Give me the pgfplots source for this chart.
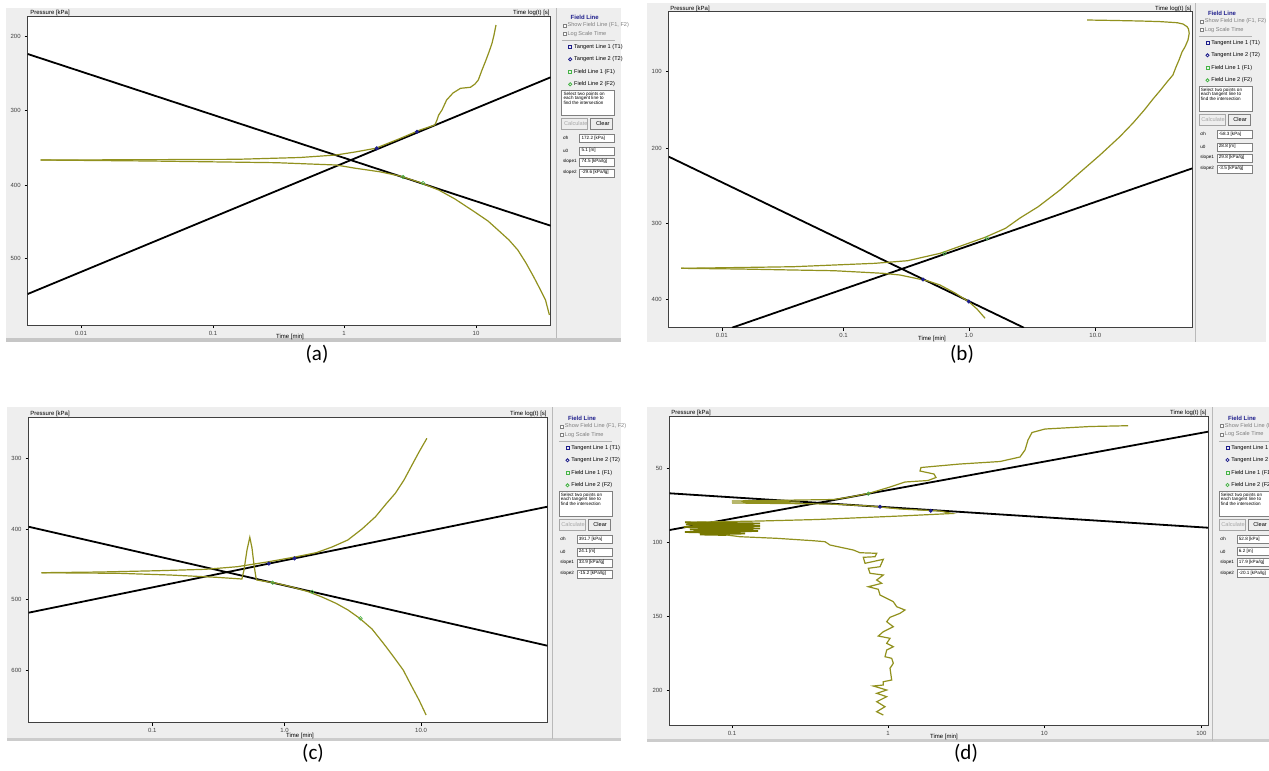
\documentclass[border=0pt]{standalone}
\usepackage{pgfplots}
\pgfplotsset{compat=1.18}
\usepackage{fontspec}
\setmainfont{Carlito}
\newfontfamily\ui{Liberation Sans}
\definecolor{curve}{RGB}{145,145,30}
\definecolor{curvedark}{RGB}{120,120,0}
\definecolor{uibg}{RGB}{238,238,238}
\definecolor{tanblue}{RGB}{30,30,140}
\definecolor{fgreen}{RGB}{70,180,70}

\pgfplotsset{
  shot/.style={
    scale only axis, anchor=north west, y dir=reverse,
    axis background/.style={fill=white},
    axis line style={black!75, line width=0.4pt},
    tick align=outside, major tick length=1.5pt,
    xtick pos=bottom, ytick pos=left,
    tick style={black, line width=0.3pt},
    ticklabel style={font=\ui\fontsize{3}{3.5}\selectfont, text=black!75},
    xticklabel style={yshift=2pt},
    yticklabel style={xshift=1.5pt},
    clip=true,
  },
  tanline/.style={black, line width=0.9pt, no marks},
  fieldcurve/.style={curve, line width=0.6pt, no marks},
  bluept/.style={only marks, mark=*, mark size=0.8pt, tanblue},
  greenpt/.style={only marks, mark=o, mark size=0.9pt, fgreen, line width=0.3pt},
}

\tikzset{uit/.style={font=\ui\fontsize{2.8}{3.2}\selectfont, anchor=west, inner sep=0pt},
         uis/.style={font=\ui\fontsize{2.3}{2.7}\selectfont, anchor=west, inner sep=0pt}}

\newcommand{\sidepanel}[6]{%
 \begin{scope}[shift={(#1,#2)}]
  \node[font=\ui\bfseries\fontsize{3}{3.5}\selectfont, text=tanblue, inner sep=0pt] at (22,0) {Field Line};
  \draw[gray, line width=0.2pt, fill=white] (0,6.5) rectangle ++(3,3);
  \node[uit, text=gray] at (4.5,8) {Show Field Line (F1, F2)};
  \draw[gray, line width=0.2pt, fill=white] (0,15) rectangle ++(3,3);
  \node[uit, text=gray] at (4.5,16.5) {Log Scale Time};
  \draw[gray!60, line width=0.3pt] (-1,23) -- (52,23);
  \draw[tanblue, line width=0.4pt] (6,28.5) rectangle ++(3,3);
  \node[uit] at (11,30) {Tangent Line 1 (T1)};
  \draw[tanblue, line width=0.4pt] (7.5,42) circle (0.8pt);
  \node[uit] at (11,42) {Tangent Line 2 (T2)};
  \draw[fgreen, line width=0.4pt] (6,53.5) rectangle ++(3,3);
  \node[uit] at (11,55) {Field Line 1 (F1)};
  \draw[fgreen, line width=0.4pt] (7.5,67) circle (0.8pt);
  \node[uit] at (11,67) {Field Line 2 (F2)};
  \draw[gray, fill=white, line width=0.3pt] (-1,73) rectangle (52,98);
  \node[uis] at (0.5,77) {Select two points on};
  \node[uis] at (0.5,81.5) {each tangent line to}; 
  \node[uis] at (0.5,86) {find the intersection};
  \draw[gray!70, fill=uibg, line width=0.3pt] (-1,101) rectangle (25,112);
  \node[uit, text=gray!70] at (1,106.5) {Calculate};
  \draw[gray, fill=uibg, line width=0.3pt] (28,101) rectangle (50,112);
  \node[uit] at (33,106.5) {Clear};
  \node[uis] at (0,121) {σh};
  \draw[gray, fill=white, line width=0.3pt] (17,117) rectangle (52,125);
  \node[uis] at (18.5,121) {#3};
  \node[uis] at (0,133.5) {u0};
  \draw[gray, fill=white, line width=0.3pt] (17,129.5) rectangle (52,137.5);
  \node[uis] at (18.5,133.5) {#4};
  \node[uis] at (0,144.5) {slope1};
  \draw[gray, fill=white, line width=0.3pt] (17,140.5) rectangle (52,148.5);
  \node[uis] at (18.5,144.5) {#5};
  \node[uis] at (0,155.5) {slope2};
  \draw[gray, fill=white, line width=0.3pt] (17,151.5) rectangle (52,159.5);
  \node[uis] at (18.5,155.5) {#6};
 \end{scope}}

\begin{document}
\begin{tikzpicture}
\useasboundingbox (0pt,0pt) rectangle (634.5pt,-385.5pt);
% ---------- screenshot backgrounds ----------
\begin{scope}[x=0.5pt, y=-0.5pt]
  \fill[uibg] (6,8) rectangle (621,339);
  \fill[gray!45] (6,338) rectangle (621,342);
  \draw[gray!55, line width=0.4pt] (556,8) -- (556,338);
  \fill[uibg] (647,3) rectangle (1266,342);
  \draw[gray!55, line width=0.4pt] (1195,3) -- (1195,342);
  \fill[uibg] (7,407) rectangle (621,739);
  \fill[gray!40] (7,738) rectangle (621,741);
  \draw[gray!55, line width=0.4pt] (552,407) -- (552,739);
  \fill[uibg] (647,407) rectangle (1269,741);
  \fill[gray!40] (647,739) rectangle (1269,742);
  \draw[gray!55, line width=0.4pt] (1212,407) -- (1212,741);
\end{scope}

% ---------- (a) ----------
\begin{axis}[shot, at={(13.85pt,-8pt)}, width=261.45pt, height=154.5pt,
  xmin=27.7, xmax=550.6, ymin=16, ymax=325,
  xtick={81,213,344,476}, xticklabels={0.01,0.1,1,10},
  ytick={36.7,110.7,185,258}, yticklabels={200,300,400,500}]
\addplot[tanline] coordinates {(27.7,54) (550.6,225.7)};
\addplot[tanline] coordinates {(27.7,294) (550.6,77.3)};
\addplot[fieldcurve] coordinates {(40.7,160) (120,159.8) (237,159.3) (300,157.5) (336,155) (355,152) (375.5,148.3) (400,138.5) (420,130) (434.8,125) (437,120) (438.7,115) (442,110) (446.6,100) (453,93) (460.5,88.3) (470.4,87.3) (475,84) (478.3,80) (482,70) (486,60) (489,52) (492,43.3) (494,35) (496,25)};
\addplot[fieldcurve] coordinates {(40.7,160) (150,161) (276.7,162.7) (336,165) (355.7,168.3) (379.4,171.7) (400,176) (420,182.5) (438.7,190) (455,199) (474.3,211.7) (488,221) (498,230) (509,240) (517.8,250) (526,263) (533.6,276.7) (540,289) (545.5,300) (549.4,315)};
\addplot[bluept] coordinates {(376.7,148.3) (417,131.7)};
\addplot[greenpt] coordinates {(403.2,177) (423,183)};
\end{axis}

% ---------- (b) ----------
\begin{axis}[shot, at={(334.4pt,-5.85pt)}, width=261.8pt, height=158pt,
  xmin=668.8, xmax=1192.4, ymin=11.7, ymax=327.7,
  xtick={721.8,843.5,968.8,1095.3}, xticklabels={0.01,0.1,1.0,10.0},
  ytick={71.7,148.3,223.3,299}, yticklabels={100,200,300,400}]
\addplot[tanline] coordinates {(668.8,156.7) (1023.9,327.7)};
\addplot[tanline] coordinates {(732,327.7) (1192.4,168.3)};
\addplot[fieldcurve] coordinates {(681,268.3) (740,267.5) (793.3,266.7) (874.9,263.3) (907.6,260.7) (940.2,253.3) (985.1,237.3) (1005.5,228.3) (1020,218) (1038.2,206.7) (1060,190) (1079,173.3) (1100,155) (1119.8,136.7) (1133,123) (1144.3,110) (1153,99) (1160.6,90) (1167,82) (1172.9,75) (1176,67) (1179,60) (1182,52) (1185.1,46.7) (1188,40) (1189.2,33.3) (1188.5,29) (1187.1,26.7) (1183,24) (1177,22.7) (1160,21.6) (1140.2,21) (1110,20.4) (1087.1,20)};
\addplot[fieldcurve] coordinates {(681,268.3) (740,269) (793.3,270) (834,270.7) (883,273.3) (900,275) (915.7,278.3) (928,281) (940,285) (955,293) (968.8,301.7) (977,309) (985.1,318.3)};
\addplot[greenpt] coordinates {(944.3,253.3) (987,238.3)};
\addplot[bluept] coordinates {(923,279.5) (968.8,301.5)};
\end{axis}

% ---------- (c) ----------
\begin{axis}[shot, at={(14.25pt,-208.65pt)}, width=259.45pt, height=152.7pt,
  xmin=28.5, xmax=547.4, ymin=417.3, ymax=722.7,
  xtick={152.2,284.6,421}, xticklabels={0.1,1.0,10.0},
  ytick={458.3,529.3,599.3,670}, yticklabels={300,400,500,600}]
\addplot[tanline] coordinates {(28.5,526.7) (547.4,645.7)};
\addplot[tanline] coordinates {(28.5,612.7) (547.4,506.7)};
\addplot[fieldcurve] coordinates {(41.5,572.7) (100,572) (158.1,570.7) (205.5,569.3) (237.2,566.7) (268.8,561.7) (296.4,556.7) (316.2,552.7) (332,547) (347.8,540) (362,529) (375.5,516.7) (386,504) (395.3,493.3) (404,480) (411.1,466.7) (419,452) (426.9,438.3)};
\addplot[fieldcurve] coordinates {(41.5,572.7) (118.6,573.3) (170,575) (216.6,577.3) (241.9,579) (244,570) (247,550) (249.8,537.3) (252,548) (254,565) (256.1,578.3) (256.9,580) (276.7,583.3) (292,587) (308.3,591.7) (322,597) (336,603.3) (348,610) (359.7,618.3) (372,629) (383.4,643.3) (393,656) (403.2,670) (411,685) (419,700) (426.1,715)};
\addplot[bluept] coordinates {(268.8,563.6) (294.5,558.4)};
\addplot[greenpt] coordinates {(272.7,582.7) (312.3,591.8) (360.5,618.3)};
\end{axis}

% ---------- (d) ----------
\begin{axis}[shot, at={(334.8pt,-208.35pt)}, width=269.2pt, height=154.15pt,
  xmin=669.6, xmax=1208, ymin=416.7, ymax=725,
  xtick={732,888,1044.3,1201.4}, xticklabels={0.1,1,10,100},
  ytick={468.3,542.7,616,690}, yticklabels={50,100,150,200}]
\addplot[tanline] coordinates {(669.6,530) (1208,431.7)};
\addplot[tanline] coordinates {(669.6,493.3) (1208,527.7)};
\addplot[fieldcurve] coordinates {(1128,425.7) (1090,426.5) (1045,429) (1032,432.5) (1028,440) (1025,450) (1020,457) (1000,461.5) (960,464) (921,467.5) (920,471) (934,474) (936,477.5) (928,480.5) (905,482) (890,487) (870,493) (850,497) (834,499.5) (732,501) (800,502) (732,503) (830,504) (870,506) (900,509) (940,511) (952,513.5) (900,516) (817,519.5) (760,521) (685,522.3)};
\addplot[curvedark, line width=0.9pt, no marks] coordinates {(685,522.3) (760,523.5) (686,524.5) (760,526) (684,527) (760,528.5) (690,529.5) (758,531) (685,532) (745,533.5) (700,534.5) (726.7,535)};
\addplot[fieldcurve] coordinates {(726.7,535) (740,536.7) (776.7,538.3) (813.3,540.7) (825,541.7) (830,545) (853.3,550) (860,552.7) (876.7,553.3) (875,556.7) (863.3,557.3) (865,563.3) (883.3,559.3) (880,566.7) (868.3,568.3) (870,573.3) (883.3,575) (876.7,580) (881.7,583.3) (868.3,586.7) (878.3,589.3) (880,595) (890,600) (893.3,601.7) (896.7,606.7) (905,610) (900,613.3) (890,617.3) (886.7,621.7) (893.3,626.7) (883.3,631.7) (878.3,636) (890,638.3) (886.7,643.3) (893.3,646.7) (886.7,650) (885,656.7) (891.7,658.3) (893.3,663.3) (890,668.3) (891.7,680) (883.3,681.7) (883.3,685) (873.3,686) (886.7,690) (876.7,693.3) (886.7,696.7) (876.7,701.7) (885,706.7) (876.7,711.7) (883.3,715)};
\addplot[greenpt] coordinates {(868.3,493.7)};
\addplot[bluept] coordinates {(880,506.7) (930.7,510.7)};
\end{axis}

% ---------- texts, side panels, captions ----------
\begin{scope}[x=0.5pt, y=-0.5pt]
  \tikzset{lab/.style={font=\ui\fontsize{3}{3.5}\selectfont, inner sep=0pt}}
  \node[lab, anchor=west] at (30,12.5) {Pressure [kPa]};
  \node[lab, anchor=east] at (550,12.5) {Time log(t) [s]};
  \node[lab] at (290,337) {Time [min]};
  \node[lab, anchor=west] at (670,8.5) {Pressure [kPa]};
  \node[lab, anchor=east] at (1192,8.5) {Time log(t) [s]};
  \node[lab] at (932,339) {Time [min]};
  \node[lab, anchor=west] at (30,413.5) {Pressure [kPa]};
  \node[lab, anchor=east] at (547,413.5) {Time log(t) [s]};
  \node[lab] at (300,735.5) {Time [min]};
  \node[lab, anchor=west] at (671,413) {Pressure [kPa]};
  \node[lab, anchor=east] at (1207,413) {Time log(t) [s]};
  \node[lab] at (944,737) {Time [min]};

  \sidepanel{562.7}{17.3}{172.2 [kPa]}{5.1 [m]}{74.5 [kPa/lg]}{-29.6 [kPa/lg]}
  \sidepanel{1200}{13.3}{-58.3 [kPa]}{28.8 [m]}{29.8 [kPa/lg]}{-3.5 [kPa/lg]}
  \sidepanel{560}{418.3}{391.7 [kPa]}{24.1 [m]}{33.9 [kPa/lg]}{-15.2 [kPa/lg]}
  \sidepanel{1220}{418}{52.8 [kPa]}{6.2 [m]}{17.9 [kPa/lg]}{-20.1 [kPa/lg]}

  \node[font=\fontsize{10.5}{12}\selectfont] at (317,354) {(a)};
  \node[font=\fontsize{10.5}{12}\selectfont] at (962,354) {(b)};
  \node[font=\fontsize{10.5}{12}\selectfont] at (313,753) {(c)};
  \node[font=\fontsize{10.5}{12}\selectfont] at (966,753) {(d)};
\end{scope}
\end{tikzpicture}
\end{document}
